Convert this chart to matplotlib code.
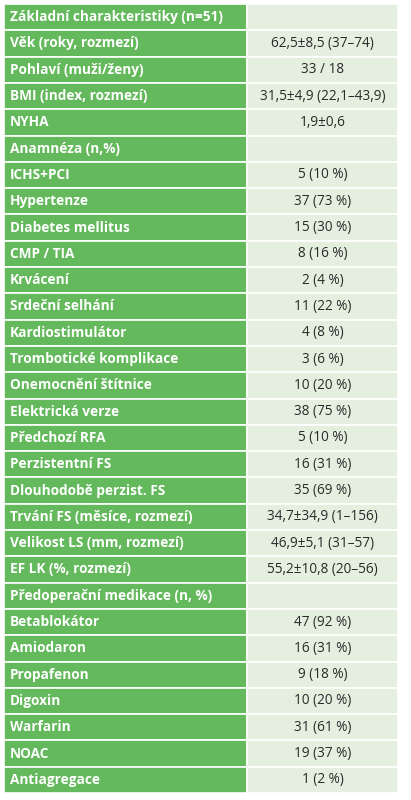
import matplotlib
matplotlib.use("Agg")
import matplotlib.pyplot as plt
from matplotlib.patches import Rectangle

labels = ["Základní charakteristiky (n=51)","Věk (roky, rozmezí)","Pohlaví (muži/ženy)","BMI (index, rozmezí)","NYHA",
"Anamnéza (n,%)","ICHS+PCI","Hypertenze","Diabetes mellitus","CMP / TIA","Krvácení","Srdeční selhání",
"Kardiostimulátor","Trombotické komplikace","Onemocnění štítnice","Elektrická verze","Předchozí RFA",
"Perzistentní FS","Dlouhodobě perzist. FS","Trvání FS (měsíce, rozmezí)","Velikost LS (mm, rozmezí)",
"EF LK (%, rozmezí)","Předoperační medikace (n, %)","Betablokátor","Amiodaron","Propafenon","Digoxin",
"Warfarin","NOAC","Antiagregace"]
values = ["","62,5±8,5 (37–74)","33 / 18","31,5±4,9 (22,1–43,9)","1,9±0,6","","5 (10 %)","37 (73 %)",
"15 (30 %)","8 (16 %)","2 (4 %)","11 (22 %)","4 (8 %)","3 (6 %)","10 (20 %)","38 (75 %)","5 (10 %)",
"16 (31 %)","35 (69 %)","34,7±34,9 (1–156)","46,9±5,1 (31–57)","55,2±10,8 (20–56)","","47 (92 %)",
"16 (31 %)","9 (18 %)","10 (20 %)","31 (61 %)","19 (37 %)","1 (2 %)"]

W, H = 411, 800
fig = plt.figure(figsize=(W/100, H/100), dpi=100)
ax = fig.add_axes([0, 0, 1, 1])
ax.set_xlim(0, W); ax.set_ylim(H, 0); ax.axis("off")
x0, xs, x1 = 4, 247, 398
top, bot = 4, 793
n = len(labels)
rh = (bot - top) / n
green = "#64b95c"; light = "#e5efdf"
for i, (l, v) in enumerate(zip(labels, values)):
    y = top + i * rh
    ax.add_patch(Rectangle((x0, y), xs - x0, rh, facecolor=green, edgecolor="white", lw=1.2))
    ax.add_patch(Rectangle((xs, y), x1 - xs, rh, facecolor=light, edgecolor="white", lw=1.2))
    ax.text(x0 + 6, y + rh/2, l, color="white", fontsize=9.8, fontweight="bold",
            family="Open Sans", va="center", ha="left")
    if v:
        ax.text((xs + x1)/2, y + rh/2, v, color="#2a2a2a", fontsize=9.8,
                family="Open Sans", va="center", ha="center")
fig.savefig("out.png", dpi=100, facecolor="white")
